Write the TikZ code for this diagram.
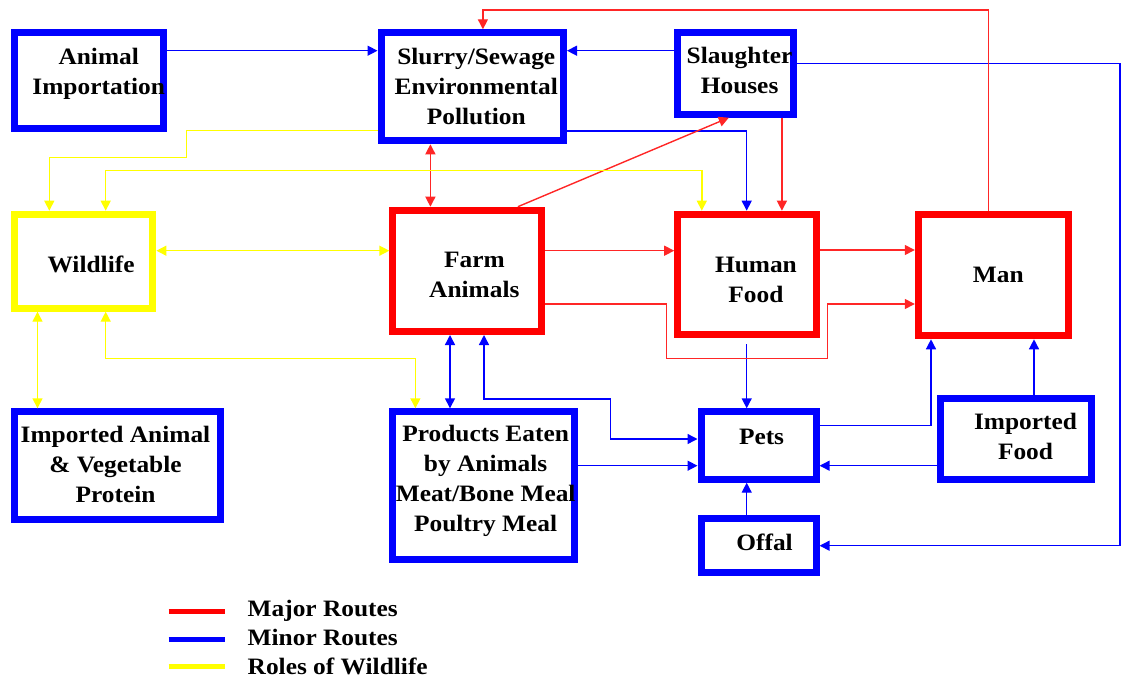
\documentclass[tikz,border=0pt]{standalone}
\usepackage{fontspec}
\setmainfont{Liberation Serif}[FakeStretch=1.08]
\usetikzlibrary{arrows.meta}
\definecolor{cblue}{RGB}{0,0,255}
\definecolor{cred}{RGB}{255,0,0}
\definecolor{cyel}{RGB}{255,255,0}
\begin{document}
\begin{tikzpicture}[x=1pt,y=-1pt,
  bbox/.style={draw=cblue, line width=7pt, inner sep=0pt, fill=white},
  rbox/.style={bbox, draw=cred},
  ybox/.style={bbox, draw=cyel},
  txt/.style={align=center, inner sep=0pt, font=\fontsize{23.5}{30}\selectfont\bfseries},
  tip/.style={-{Triangle[length=10pt,width=10pt]}},
  dtip/.style={{Triangle[length=10pt,width=10pt]}-{Triangle[length=10pt,width=10pt]}},
  bl/.style={draw=cblue, line width=1.4pt},
  rl/.style={draw=cred!85, line width=1.4pt},
  yl/.style={draw=cyel, line width=1.4pt},
  legline/.style={line width=5pt},
  legtxt/.style={anchor=base west, inner sep=0pt, font=\fontsize{23.5}{30}\selectfont\bfseries}
]
\useasboundingbox (0,0) rectangle (1123,679);

% boxes
\node[bbox, minimum width=149pt, minimum height=95.4pt,
  label={[txt,xshift=10pt,yshift=7pt]center:Animal\\Importation}] (ai) at (88.75,80.5) {};
\node[bbox, minimum width=182.5pt, minimum height=108pt,
  label={[txt,xshift=4pt]center:Slurry/Sewage\\Environmental\\Pollution}] (sl) at (472.25,86.8) {};
\node[bbox, minimum width=115.8pt, minimum height=81.4pt,
  label={[txt,xshift=4pt,yshift=3pt]center:Slaughter\\Houses}] (sh) at (735.6,73.5) {};
\node[ybox, minimum width=138.7pt, minimum height=94pt,
  label={[txt,xshift=7.5pt,yshift=-3pt]center:Wildlife}] (wl) at (83.55,261.2) {};
\node[rbox, minimum width=149.1pt, minimum height=121.3pt,
  label={[txt,xshift=7pt,yshift=-4.5pt]center:Farm\\Animals}] (fa) at (467.35,270.85) {};
\node[rbox, minimum width=138.4pt, minimum height=120.3pt,
  label={[txt,xshift=9pt,yshift=-6pt]center:Human\\Food}] (hf) at (746.9,274.35) {};
\node[rbox, minimum width=149.9pt, minimum height=121.6pt,
  label={[txt,xshift=5pt]center:Man}] (man) at (993.25,275) {};
\node[bbox, minimum width=206.6pt, minimum height=108pt,
  label={[txt,xshift=-2pt,yshift=1.5pt]center:Imported Animal\\\& Vegetable\\Protein}] (iav) at (117.5,465.8) {};
\node[bbox, minimum width=181.7pt, minimum height=148pt,
  label={[txt,xshift=2pt,yshift=5pt]center:Products Eaten\\by Animals\\Meat/Bone Meal\\Poultry Meal}] (pe) at (483.65,485.8) {};
\node[bbox, minimum width=115.1pt, minimum height=67.4pt,
  label={[txt,xshift=3pt,yshift=9pt]center:Pets}] (pets) at (758.55,445.5) {};
\node[bbox, minimum width=151pt, minimum height=80.7pt,
  label={[txt,xshift=9.5pt,yshift=2pt]center:Imported\\Food}] (if) at (1016,438.85) {};
\node[bbox, minimum width=115.1pt, minimum height=54pt,
  label={[txt,xshift=6pt,yshift=3pt]center:Offal}] (off) at (758.55,545.5) {};

% blue connectors
\draw[bl,tip] (ai.east |- 0,50.7) -- (sl.west |- 0,50.7);
\draw[bl,tip] (sh.west |- 0,50.7) -- (sl.east |- 0,50.7);
\draw[bl,tip] (sh.east |- 0,63.3) -- (1120,63.3) -- (1120,545.7) -- (off.east |- 0,545.7);
\draw[bl,tip] (sl.east |- 0,131) -- (746.7,131) -- (hf.north -| 746.7,0);
\draw[bl,dtip] (fa.south -| 450,0) -- (pe.north -| 450,0);
\draw[bl,dtip] (fa.south -| 484,0) -- (484,399) -- (610.3,399) -- (610.3,439) -- (pets.west |- 0,439);
\draw[bl,tip] (pe.east |- 0,465.7) -- (pets.west |- 0,465.7);
\draw[bl,tip,shorten <=6pt] (hf.south -| 746.7,0) -- (pets.north -| 746.7,0);
\draw[bl,tip] (if.west |- 0,465.7) -- (pets.east |- 0,465.7);
\draw[bl,tip] (off.north -| 746.7,0) -- (pets.south -| 746.7,0);
\draw[bl,tip] (pets.east |- 0,425.7) -- (931,425.7) -- (man.south -| 931,0);
\draw[bl,tip] (if.north -| 1034,0) -- (man.south -| 1034,0);

% red connectors
\draw[rl,tip] (man.north -| 988.4,0) -- (988.4,10) -- (482.9,10) -- (sl.north -| 482.9,0);
\draw[rl,tip] (sh.south -| 781.9,0) -- (hf.north -| 781.9,0);
\draw[rl,tip] (fa.north -| 517.9,0) -- (sh.south -| 728.8,0);
\draw[rl,dtip] (sl.south -| 430.4,0) -- (fa.north -| 430.4,0);
\draw[rl,tip] (fa.east |- 0,250.7) -- (hf.west |- 0,250.7);
\draw[rl,tip] (hf.east |- 0,250) -- (man.west |- 0,250);
\draw[rl,tip] (fa.east |- 0,304) -- (666.6,304) -- (666.6,358.3) -- (827.5,358.3) -- (827.5,304) -- (man.west |- 0,304);

% yellow connectors
\draw[yl,tip] (sl.west |- 0,130.3) -- (186.4,130.3) -- (186.4,157.7) -- (49.3,157.7) -- (wl.north -| 49.3,0);
\draw[yl,dtip] (wl.north -| 105.7,0) -- (105.7,170.7) -- (701.8,170.7) -- (hf.north -| 701.8,0);
\draw[yl,dtip] (wl.east |- 0,250.7) -- (fa.west |- 0,250.7);
\draw[yl,dtip] (wl.south -| 37.5,0) -- (iav.north -| 37.5,0);
\draw[yl,dtip] (wl.south -| 105.7,0) -- (105.7,358.3) -- (415.4,358.3) -- (pe.north -| 415.4,0);

% legend
\coordinate (l1a) at (168.6,611.7); \coordinate (l1b) at (225,611.7);
\coordinate (l2a) at (168.6,639.3); \coordinate (l2b) at (225,639.3);
\coordinate (l3a) at (168.6,666);   \coordinate (l3b) at (225,666);
\draw[legline,cred] (l1a) -- (l1b);
\draw[legline,cblue] (l2a) -- (l2b);
\draw[legline,cyel] (l3a) -- (l3b);
\node[legtxt] (t1) at (247.5,616.5) {Major Routes};
\node[legtxt] (t2) at (247.5,645) {Minor Routes};
\node[legtxt] (t3) at (247.5,674.5) {Roles of Wildlife};
\end{tikzpicture}
\end{document}
